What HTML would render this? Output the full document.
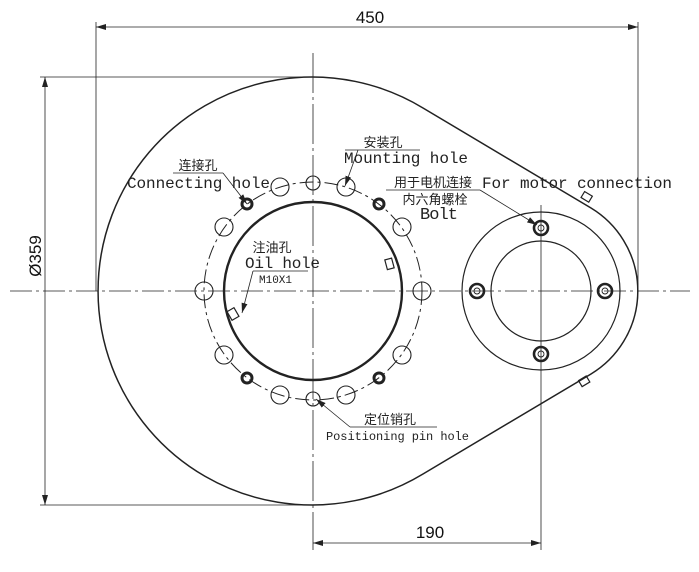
<!DOCTYPE html>
<html><head><meta charset="utf-8"><style>
html,body{margin:0;padding:0;background:#fff;}
svg{display:block;}
.m{font-family:"Liberation Mono","Noto Serif CJK SC",monospace;fill:#222;}
.c{font-family:"Liberation Sans","Noto Sans CJK SC",sans-serif;fill:#222;}
.d{font-family:"Liberation Sans",sans-serif;fill:#111;}
</style></head><body>
<svg width="699" height="572" viewBox="0 0 699 572" xmlns="http://www.w3.org/2000/svg">
<defs>
<marker id="a" viewBox="0 0 10 6" refX="10" refY="3" markerWidth="10" markerHeight="6" orient="auto-start-reverse" markerUnits="userSpaceOnUse"><path d="M0,0 L10,3 L0,6z" fill="#222"/></marker>
</defs>
<g stroke="#222" fill="none">
<line x1="10" y1="291" x2="690" y2="291" stroke-width="0.8" stroke-dasharray="22,4,3,4"/>
<line x1="313" y1="53" x2="313" y2="550" stroke-width="0.8" stroke-dasharray="40,4,3,4"/>
<line x1="541" y1="205" x2="541" y2="550" stroke-width="0.8"/>
<line x1="96" y1="22" x2="96" y2="291" stroke-width="0.8"/>
<line x1="638" y1="22" x2="638" y2="291" stroke-width="0.8"/>
<line x1="40" y1="77" x2="313" y2="77" stroke-width="0.8"/>
<line x1="40" y1="505" x2="313" y2="505" stroke-width="0.8"/>
<line x1="96" y1="27" x2="638" y2="27" stroke-width="0.8" marker-start="url(#a)" marker-end="url(#a)"/>
<line x1="45" y1="77" x2="45" y2="505" stroke-width="0.8" marker-start="url(#a)" marker-end="url(#a)"/>
<line x1="313" y1="543" x2="541" y2="543" stroke-width="0.8" marker-start="url(#a)" marker-end="url(#a)"/>
<path d="M423,108 A214,214 0 1 0 423,474 L591,374 A97,97 0 0 0 591,208 Z" stroke-width="1.5"/>
<circle cx="313" cy="291" r="89" stroke-width="2.4"/>
<circle cx="313" cy="291" r="109" stroke-width="1" stroke-dasharray="14,4,3,4"/>
<circle cx="541" cy="291" r="79" stroke-width="1.2"/>
<circle cx="541" cy="291" r="50" stroke-width="1.2"/>
<g stroke-width="2.6">
<circle cx="541" cy="228" r="7"/><circle cx="541" cy="354" r="7"/>
<circle cx="477" cy="291" r="7"/><circle cx="605" cy="291" r="7"/>
</g>
<g stroke-width="0.9">
<circle cx="541" cy="228" r="3"/><circle cx="541" cy="354" r="3"/>
<circle cx="477" cy="291" r="3"/><circle cx="605" cy="291" r="3"/>
</g>
<g stroke-width="1.1">
<circle cx="313" cy="183" r="7"/><circle cx="313" cy="399" r="7"/>
<circle cx="280" cy="187" r="9"/><circle cx="346" cy="187" r="9"/>
<circle cx="280" cy="395" r="9"/><circle cx="346" cy="395" r="9"/>
<circle cx="224" cy="227" r="9"/><circle cx="402" cy="227" r="9"/>
<circle cx="224" cy="355" r="9"/><circle cx="402" cy="355" r="9"/>
<circle cx="204" cy="291" r="9"/><circle cx="422" cy="291" r="9"/>
</g>
<g stroke-width="3">
<circle cx="247" cy="204" r="5"/><circle cx="379" cy="204" r="5"/>
<circle cx="247" cy="378" r="5"/><circle cx="379" cy="378" r="5"/>
</g>
<g stroke-width="1.2">
<rect x="229" y="309" width="8" height="10" transform="rotate(-30 233 314)"/>
<rect x="386" y="259" width="7" height="10" transform="rotate(-15 389 264)"/>
<rect x="582" y="193" width="9" height="7" transform="rotate(31 586 197)"/>
<rect x="580" y="378" width="9" height="7" transform="rotate(-31 584 382)"/>
</g>
<g stroke-width="0.8">
<line x1="173" y1="173" x2="223" y2="173"/><line x1="223" y1="173" x2="247" y2="204" marker-end="url(#a)"/>
<line x1="345" y1="150" x2="420" y2="150"/><line x1="358" y1="150" x2="345" y2="186" marker-end="url(#a)"/>
<line x1="253" y1="271" x2="308" y2="271"/><line x1="253" y1="271" x2="242" y2="313" marker-end="url(#a)"/>
<line x1="386" y1="190" x2="480" y2="190"/><line x1="480" y1="190" x2="537" y2="225" marker-end="url(#a)"/>
<line x1="350" y1="427" x2="437" y2="427"/><line x1="350" y1="427" x2="316" y2="399" marker-end="url(#a)"/>
</g>
</g>
<text class="d" x="370" y="23" font-size="17" text-anchor="middle">450</text>
<text class="d" x="430" y="538" font-size="17" text-anchor="middle">190</text>
<text class="d" font-size="17" text-anchor="middle" transform="translate(41,256) rotate(-90)">Ø359</text>
<text class="c" x="198" y="170" font-size="13" text-anchor="middle">连接孔</text>
<text class="m" x="127" y="188" font-size="16" textLength="143">Connecting hole</text>
<text class="c" x="383" y="147" font-size="13" text-anchor="middle">安装孔</text>
<text class="m" x="344" y="163" font-size="16" textLength="124">Mounting hole</text>
<text class="c" x="272" y="252" font-size="13" text-anchor="middle">注油孔</text>
<text class="m" x="245" y="268" font-size="16" textLength="75">Oil hole</text>
<text class="m" x="259" y="283" font-size="11">M10X1</text>
<text class="c" x="433" y="187" font-size="13" text-anchor="middle">用于电机连接</text>
<text class="m" x="482" y="188" font-size="16" textLength="190">For motor connection</text>
<text class="c" x="435" y="204" font-size="13" text-anchor="middle">内六角螺栓</text>
<text class="m" x="420" y="219" font-size="17" textLength="38">Bolt</text>
<text class="c" x="390" y="424" font-size="13" text-anchor="middle">定位销孔</text>
<text class="m" x="326" y="440" font-size="12" textLength="143">Positioning pin hole</text>
</svg>
</body></html>
